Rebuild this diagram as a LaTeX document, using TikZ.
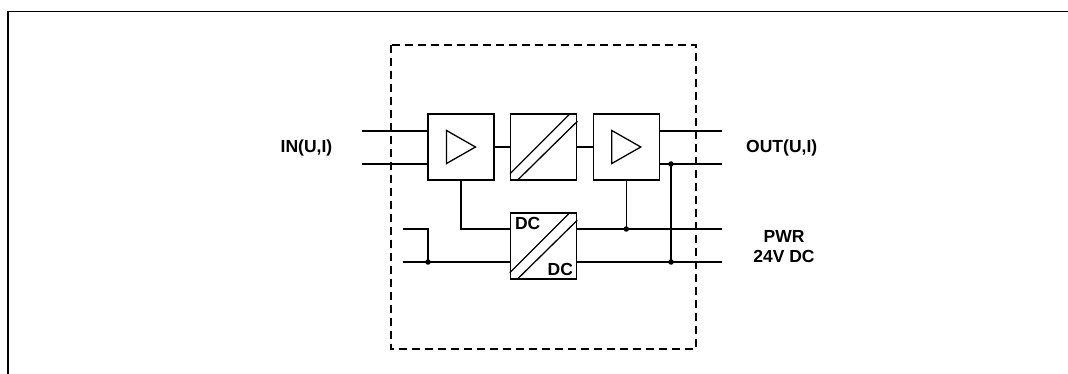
\documentclass[tikz,border=0pt]{standalone}
\usepackage{fontspec}
\setmainfont{Liberation Sans}
\begin{document}
\begin{tikzpicture}[x=1pt, y=-1pt, line width=1.3pt,
    blk/.style={draw, minimum size=66pt, inner sep=0pt},
    lbl/.style={font=\fontsize{17.5}{20}\selectfont\bfseries, inner sep=0pt, align=center},
    dot/.style={circle, fill, inner sep=0pt, minimum size=5.5pt}]

    \useasboundingbox (0,0) rectangle (1068,374);

    %% Frame
    \draw[line width=1.5pt] (8,374) -- (8,11.5) -- (1068,11.5);

    % Housing
    \draw[line width=1.9pt, dash pattern=on 8pt off 5pt] (391,45) rectangle (696,349);

    %% Signal path
    % Input amplifier
    \node[blk] (amp1) at (461,147) {};
    % Isolation
    \node[blk] (conv) at (543.7,147) {};
    % Output amplifier
    \node[blk] (amp2) at (626.3,147) {};
    % Power supply
    \node[blk] (dcdc) at (543.5,246) {};

    % Amplifier triangles
    \foreach \b in {amp1,amp2}
        \draw ([shift={(-14.5,-16.5)}]\b.center) -- ([shift={(14.5,0)}]\b.center)
            -- ([shift={(-14.5,16.5)}]\b.center) -- cycle;

    % Isolation strokes
    \foreach \b in {conv,dcdc} {
        \draw ([shift={(0,-7)}]\b.south west) -- ([shift={(-7,0)}]\b.north east);
        \draw ([shift={(7,0)}]\b.south west) -- ([shift={(0,8)}]\b.north east);
    }

    % DC labels
    \node[lbl, anchor=north west] (dca) at ([shift={(4.5,4)}]dcdc.north west) {DC};
    \node[lbl, anchor=south east] (dcb) at ([shift={(-3.5,-3)}]dcdc.south east) {DC};

    %% Terminals
    \coordinate (in1) at (362,131);
    \coordinate (in2) at (362,164);
    \coordinate (out1) at (722,131);
    \coordinate (out2) at (722,164);
    \coordinate (pwr1) at (722,229);
    \coordinate (pwr2) at (722,262);
    \coordinate (sup1) at (403,229);
    \coordinate (sup2) at (403,262);
    \coordinate (dcin1) at (dcdc.west |- sup1);
    \coordinate (dcin2) at (dcdc.west |- sup2);
    \coordinate (dcout1) at (dcdc.east |- pwr1);
    \coordinate (dcout2) at (dcdc.east |- pwr2);

    % Input and output lines
    \draw (in1) -- (in1 -| amp1.west);
    \draw (in2) -- (in2 -| amp1.west);
    \draw (amp1.east) -- (conv.west);
    \draw (conv.east) -- (amp2.west);
    \draw (out1) -- (out1 -| amp2.east);
    \draw (out2) -- (out2 -| amp2.east);

    % Supply lines
    \draw (amp1.south) |- (dcin1);
    \node[dot] (j1) at (428,262) {};
    \draw (sup1) -| (j1.center);
    \draw (sup2) -- (dcin2);
    \draw (dcout1) -- (pwr1);
    \draw (dcout2) -- (pwr2);
    \node[dot] (j2) at (amp2.south |- pwr1) {};
    \draw (amp2.south) -- (j2.center);
    \node[dot] (j3) at (671,164) {};
    \node[dot] (j4) at (671,262) {};
    \draw (j3.center) -- (j4.center);

    % Labels
    \node[lbl] (inlbl) at (306.5,148) {IN(U,I)};
    \node[lbl] (outlbl) at (781.7,148) {OUT(U,I)};
    \node[lbl] (pwrlbl) at (784,247) {PWR\\24V DC};

\end{tikzpicture}
\end{document}
